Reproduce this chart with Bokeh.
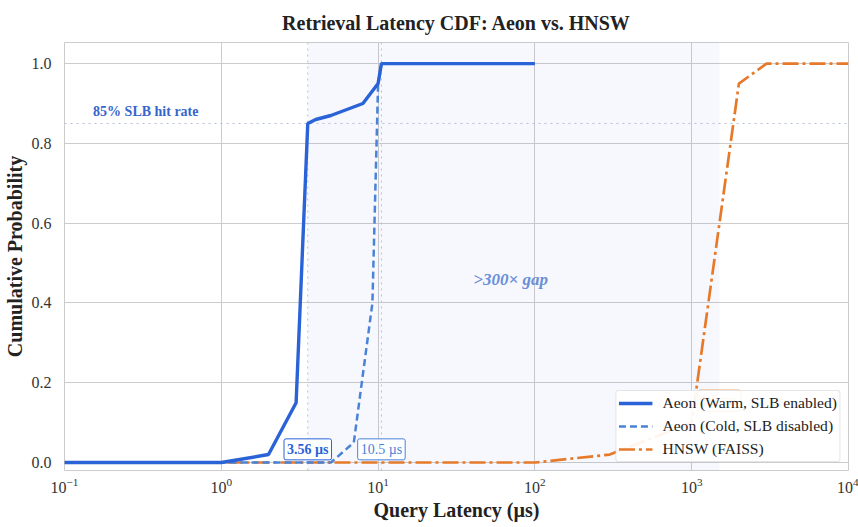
from bokeh.plotting import figure
from bokeh.models import (Range1d, Legend, LegendItem, Label, Span, BoxAnnotation,
                          NumeralTickFormatter, FixedTicker)
from bokeh.embed import file_html
from bokeh.resources import INLINE

# ---- data ----
warm_x = [0.1, 1, 2, 3, 3.56, 4, 5, 8, 10, 10.5, 100]
warm_y = [0.0, 0.0, 0.02, 0.15, 0.85, 0.86, 0.87, 0.90, 0.95, 1.0, 1.0]

cold_x = [0.1, 1, 5, 7, 9.2, 10, 10.5]
cold_y = [0.0, 0.0, 0.0, 0.05, 0.40, 0.95, 1.0]

hnsw_x = [0.1, 1, 10, 100, 300, 1000, 2000, 3000, 10000]
hnsw_y = [0.0, 0.0, 0.0, 0.0, 0.02, 0.10, 0.95, 1.0, 1.0]

warm_p50 = 3.56
cold_p50 = 10.5
hnsw_p50 = 1500
slb_hit_rate = 0.85

x_ticks = [0.1, 1, 10, 100, 1000, 10000]
y_ticks = [0.0, 0.2, 0.4, 0.6, 0.8, 1.0]

series_labels = ["Aeon (Warm, SLB enabled)", "Aeon (Cold, SLB disabled)", "HNSW (FAISS)"]

FONT = "Liberation Serif"
WARM = "#2a62d8"
COLD = "#4a82d8"
ORANGE = "#e67a2a"

p = figure(width=858, height=527, x_axis_type="log",
           x_range=Range1d(0.1, 10000), y_range=Range1d(-0.02, 1.053),
           output_backend="svg", toolbar_location=None,
           title="Retrieval Latency CDF: Aeon vs. HNSW",
           min_border_left=63, min_border_right=10, min_border_top=42, min_border_bottom=57)

p.title.text_font = FONT
p.title.text_font_size = "20px"
p.title.text_font_style = "bold"
p.title.align = "center"
p.title.text_color = "#222222"
p.title.standoff = 18

p.outline_line_color = "#cccccc"
p.outline_line_width = 1
p.background_fill_color = "white"

for ax in (p.xaxis[0], p.yaxis[0]):
    ax.axis_line_color = None
    ax.major_tick_line_color = None
    ax.minor_tick_line_color = None
    ax.major_tick_out = 0
    ax.major_tick_in = 0
    ax.minor_tick_out = 0
    ax.major_label_text_font = FONT
    ax.major_label_text_font_size = "16px"
    ax.major_label_text_color = "#333333"
    ax.axis_label_text_font = FONT
    ax.axis_label_text_font_size = "20px"
    ax.axis_label_text_font_style = "bold"
    ax.axis_label_text_color = "#222222"

p.xaxis.axis_label = "Query Latency (µs)"
p.yaxis.axis_label = "Cumulative Probability"
p.xaxis.ticker = FixedTicker(ticks=x_ticks)
p.yaxis.ticker = FixedTicker(ticks=y_ticks)
p.yaxis.formatter = NumeralTickFormatter(format="0.0")
p.xaxis.major_label_standoff = 7
p.xaxis.axis_label_standoff = 3
p.yaxis.major_label_standoff = 13
p.yaxis.axis_label_standoff = 3

p.xgrid.grid_line_color = "#cccccc"
p.ygrid.grid_line_color = "#cccccc"
p.xgrid.grid_line_width = 1
p.ygrid.grid_line_width = 1

# shaded gap region
p.add_layout(BoxAnnotation(left=warm_p50, right=hnsw_p50, fill_color="#4a72d0",
                           fill_alpha=0.05, line_color=None, level="underlay"))

# reference lines
for loc in (warm_p50, cold_p50):
    p.add_layout(Span(location=loc, dimension="height", line_color="#b4bfd8",
                      line_dash="dotted", line_width=1, level="underlay"))
p.add_layout(Span(location=slb_hit_rate, dimension="width", line_color="#b4bfd8",
                  line_dash="dotted", line_width=1, level="underlay"))

# curves
r_hnsw = p.line(hnsw_x, hnsw_y, line_color=ORANGE, line_width=2.7, line_dash="16 4 3 4")
r_cold = p.line(cold_x, cold_y, line_color=COLD, line_width=2.5, line_dash="7 4")
r_warm = p.line(warm_x, warm_y, line_color=WARM, line_width=3.4)

# annotations
p.add_layout(Label(x=0.33, y=0.88, text="85% SLB hit rate", text_font=FONT,
                   text_font_size="14px", text_font_style="bold", text_color="#3566cc",
                   text_align="center", text_baseline="middle"))
p.add_layout(Label(x=70, y=0.46, text=">300× gap", text_font=FONT,
                   text_font_size="17px", text_font_style="bold italic", text_color="#6a8fd8",
                   text_align="center", text_baseline="middle"))
p.add_layout(Label(x=warm_p50, y=0.033, text="3.56 µs", text_font=FONT,
                   text_font_size="14px", text_font_style="bold", text_color=WARM,
                   text_align="center", text_baseline="middle",
                   background_fill_color="white", background_fill_alpha=0.9,
                   border_line_color=WARM, border_line_width=1, padding=3, border_radius=2))
p.add_layout(Label(x=cold_p50, y=0.033, text="10.5 µs", text_font=FONT,
                   text_font_size="14px", text_color=COLD,
                   text_align="center", text_baseline="middle",
                   background_fill_color="white", background_fill_alpha=0.9,
                   border_line_color=COLD, border_line_width=1, padding=3, border_radius=2))
p.add_layout(Label(x=hnsw_p50, y=0.155, text="1.5 ms", text_font=FONT,
                   text_font_size="14px", text_color=ORANGE,
                   text_align="center", text_baseline="middle",
                   background_fill_color="white", background_fill_alpha=0.9,
                   border_line_color=ORANGE, border_line_width=1, padding=3, border_radius=2,
                   level="glyph"))

legend = Legend(items=[LegendItem(label=series_labels[0], renderers=[r_warm]),
                       LegendItem(label=series_labels[1], renderers=[r_cold]),
                       LegendItem(label=series_labels[2], renderers=[r_hnsw])],
                location="bottom_right")
legend.label_text_font = FONT
legend.label_text_font_size = "15.6px"
legend.label_text_color = "#222222"
legend.glyph_width = 34
legend.glyph_height = 20
legend.label_height = 20
legend.label_standoff = 10
legend.spacing = 3
legend.padding = 2
legend.margin = 8
legend.border_line_color = "#cccccc"
legend.background_fill_alpha = 0.92
legend.border_radius = 3
p.add_layout(legend)

open("out.html", "w").write(file_html(p, INLINE))
